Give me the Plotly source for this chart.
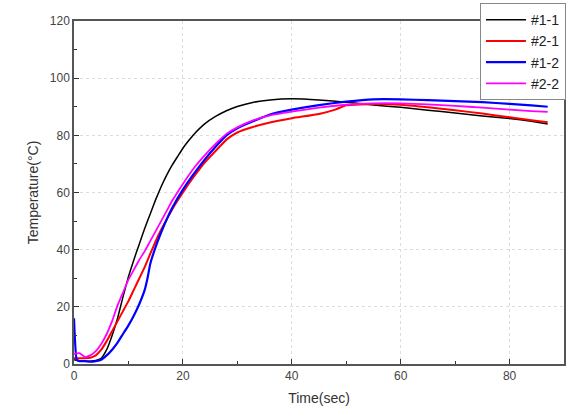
import plotly.graph_objects as go

# ---- data ----
t_11 = [0, 1, 2, 3, 4, 5, 6, 7, 8, 9, 10, 11, 12, 13, 14, 15, 16, 17, 18, 19, 20, 21, 22, 24, 26, 28, 30, 33, 36, 40, 45, 50, 55, 60, 65, 70, 75, 80, 84, 87]
temp_11 = [1.5, 1, 1, 1, 1.2, 2, 5, 10, 16, 23.5, 30.5, 36.5, 42, 47.5, 52.5, 57.5, 62, 66, 69.5, 72.5, 75.5, 78, 80.3, 84, 86.6, 88.6, 90.1, 91.6, 92.4, 92.8, 92.4, 91.6, 90.6, 89.8, 88.8, 87.8, 86.8, 85.9, 84.9, 84]

t_21 = [0, 1, 2, 3, 4, 5, 6, 7, 8, 9, 10, 11, 12, 13, 14, 15, 16, 17, 18, 20, 22, 24, 26, 28, 30, 33, 36, 40, 45, 48, 50, 55, 60, 65, 70, 75, 80, 84, 87]
temp_21 = [2, 2, 2, 2.2, 3, 5, 8, 11.5, 15, 18.5, 22, 26, 30, 34, 38.5, 43, 47, 50.5, 54, 60, 65.5, 70.5, 74.5, 78.5, 81, 83, 84.5, 86, 87.5, 89, 90.5, 91, 90.7, 89.8, 88.8, 87.6, 86.3, 85.3, 84.6]

t_12 = [0, 0.5, 1, 2, 3, 4, 5, 6, 7, 8, 9, 10, 11, 12, 13, 13.5, 14, 15, 16, 17, 18, 20, 22, 24, 26, 28, 30, 33, 36, 40, 45, 50, 55, 60, 65, 70, 75, 80, 84, 87]
temp_12 = [16, 1.5, 1, 1, 0.8, 1, 1.5, 3, 5, 7.5, 10.5, 13.5, 17, 21, 26, 30, 35, 41, 46, 50.5, 54.5, 61, 66.5, 71.5, 76, 80, 82.5, 85, 87.3, 89, 90.6, 91.8, 92.6, 92.6, 92.3, 92, 91.6, 91, 90.5, 90]

t_22 = [0, 1, 2, 3, 4, 5, 6, 7, 8, 9, 10, 11, 12, 13, 14, 15, 16, 17, 18, 20, 22, 24, 26, 28, 30, 33, 36, 40, 45, 50, 55, 60, 65, 70, 75, 80, 84, 87]
temp_22 = [3.5, 3.8, 2.5, 3, 4.5, 7, 10.5, 15, 20.5, 25, 29.5, 33, 36.5, 39.5, 43, 46.5, 50, 53.5, 57, 63, 68.5, 73, 77, 80.5, 82.8, 85.3, 87, 88.3, 89.7, 90.7, 91.2, 91.2, 90.8, 90.3, 89.7, 89, 88.5, 88.2]

series = [
    ("#1-1", t_11, temp_11, "#000000", 1.5),
    ("#2-1", t_21, temp_21, "#ff0000", 2.0),
    ("#1-2", t_12, temp_12, "#0000ff", 2.2),
    ("#2-2", t_22, temp_22, "#ff00ff", 1.8),
]

x_ticks = [0, 20, 40, 60, 80]
y_ticks = [0, 20, 40, 60, 80, 100, 120]

fig = go.Figure()
for name, t, v, color, w in series:
    fig.add_trace(go.Scatter(x=t, y=v, mode="lines", name=name,
                             line=dict(color=color, width=w, shape="spline", smoothing=0.4)))

axis_common = dict(
    showline=True, linecolor="#555555", linewidth=1.5, mirror=True,
    ticks="inside", ticklen=5, tickcolor="#333333", tickwidth=1.2,
    showgrid=True, gridcolor="#dddddd", griddash="dot", gridwidth=1,
    zeroline=False,
    tickfont=dict(family="Liberation Sans, Arial", size=12, color="#444444"),
    minor=dict(ticks="inside", ticklen=3, tickcolor="#333333", showgrid=False),
)

fig.update_xaxes(range=[0, 90], tickvals=x_ticks, minor_dtick=10,
                 title=dict(text="Time(sec)", font=dict(family="Liberation Sans, Arial", size=14, color="#333333"), standoff=12),
                 **axis_common)
fig.update_yaxes(range=[0, 120], tickvals=y_ticks, minor_dtick=10,
                 title=dict(text="Temperature(°C)", font=dict(family="Liberation Sans, Arial", size=14, color="#333333"), standoff=8),
                 **axis_common)

fig.update_layout(
    width=575, height=406,
    margin=dict(l=74, r=11, t=21, b=42, autoexpand=False),
    paper_bgcolor="white", plot_bgcolor="white",
    showlegend=True,
    legend=dict(x=1.004, xanchor="right", y=1.052, yanchor="top",
                bgcolor="white", bordercolor="#888888", borderwidth=1,
                font=dict(family="Liberation Sans, Arial", size=14, color="#222222"),
                tracegroupgap=0, itemwidth=40),
)

fig.write_html("out.html")
